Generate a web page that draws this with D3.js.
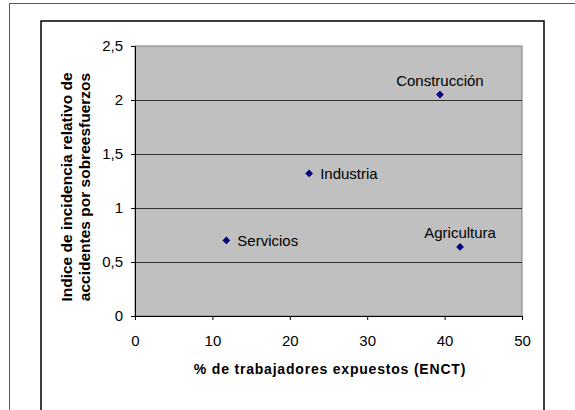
<!DOCTYPE html>
<html><head><meta charset="utf-8">
<script src="https://cdn.jsdelivr.net/npm/d3@7"></script>
<style>body{margin:0;background:#fff}svg{display:block}</style>
</head><body>
<script>
const categories = ["Construcción","Industria","Servicios","Agricultura"];
const xValues = [39.4, 22.5, 11.8, 42.0];
const yValues = [2.05, 1.32, 0.70, 0.64];
const labelPos = ["above","right","right","above"];
const xTicks = [0,10,20,30,40,50];
const yTicks = [0,0.5,1,1.5,2,2.5];
const xTitle = "% de trabajadores expuestos (ENCT)";
const yTitle = ["Indice de incidencia relativo de","accidentes por sobreesfuerzos"];

const W=575,H=410;
const FONT="Liberation Sans, Arial, sans-serif";
const svg=d3.select("body").append("svg").attr("width",W).attr("height",H);
svg.append("rect").attr("width",W).attr("height",H).attr("fill","#fff");
// outer frame
svg.append("rect").attr("x",9.5).attr("y",3.5).attr("width",W+10).attr("height",H+10)
  .attr("fill","none").attr("stroke","#5a5a5a").attr("stroke-width",1);
// inner chart border
svg.append("rect").attr("x",41).attr("y",21).attr("width",503).attr("height",H+10)
  .attr("fill","#fff").attr("stroke","#000").attr("stroke-width",1.5);

const L=135,T=46,R=522,B=316;
const x=d3.scaleLinear().domain([0,50]).range([L,R]);
const y=d3.scaleLinear().domain([0,2.5]).range([B,T]);
const fmt=d=>String(d).replace(".",",");

svg.append("rect").attr("x",L).attr("y",T).attr("width",R-L).attr("height",B-T)
  .attr("fill","#c0c0c0").attr("stroke","#808080").attr("stroke-width",1);
// gridlines
svg.append("g").selectAll("line").data(yTicks.filter(d=>d>0&&d<2.5)).join("line")
  .attr("x1",L).attr("x2",R).attr("y1",d=>Math.round(y(d))+0.5).attr("y2",d=>Math.round(y(d))+0.5)
  .attr("stroke","#333").attr("stroke-width",1);

const xa=svg.append("g").attr("transform",`translate(0,${B})`)
  .call(d3.axisBottom(x).tickValues(xTicks).tickSize(4).tickPadding(15).tickFormat(fmt));
const ya=svg.append("g").attr("transform",`translate(${L},0)`)
  .call(d3.axisLeft(y).tickValues(yTicks).tickSize(4).tickPadding(8).tickFormat(fmt));
[xa,ya].forEach(a=>{
  a.selectAll("text").attr("font-family",FONT).attr("font-size",15).attr("fill","#000");
  a.selectAll("line,path").attr("stroke","#000");
});

svg.append("text").attr("x",330).attr("y",374).attr("text-anchor","middle")
  .attr("font-family",FONT).attr("font-size",14).attr("font-weight","bold")
  .attr("letter-spacing",0.8).text(xTitle);
const yt=svg.append("text").attr("transform",`translate(0,187) rotate(-90)`)
  .attr("text-anchor","middle").attr("font-family",FONT)
  .attr("font-size",15.5).attr("font-weight","bold");
yt.selectAll("tspan").data(yTitle).join("tspan").attr("x",0).attr("y",(d,i)=>71.5+i*18).text(d=>d);

const sym=d3.symbol().type(d3.symbolSquare).size(30);
const pts=categories.map((c,i)=>({c,x:xValues[i],y:yValues[i],p:labelPos[i]}));
svg.append("g").selectAll("path").data(pts).join("path")
  .attr("transform",d=>`translate(${x(d.x)},${y(d.y)}) rotate(45)`).attr("d",sym).attr("fill","#000080");
svg.append("g").selectAll("text").data(pts).join("text")
  .attr("font-family",FONT).attr("font-size",15).attr("fill","#000")
  .attr("x",d=>d.p==="above"?x(d.x):x(d.x)+11)
  .attr("y",d=>d.p==="above"?y(d.y)-9:y(d.y)+6)
  .attr("text-anchor",d=>d.p==="above"?"middle":"start")
  .text(d=>d.c);
</script>
</body></html>
